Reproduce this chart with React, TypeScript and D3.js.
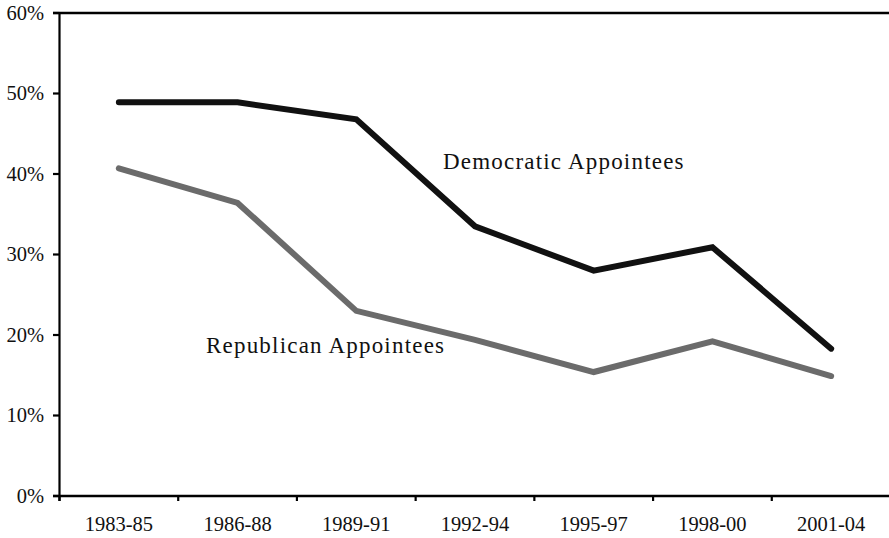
import React from "react";
import * as d3 from "d3";

const categories = ["1983-85", "1986-88", "1989-91", "1992-94", "1995-97", "1998-00", "2001-04"];
const democratic = [48.9, 48.9, 46.8, 33.5, 28.0, 30.9, 18.3];
const republican = [40.7, 36.4, 23.0, 19.4, 15.4, 19.2, 14.9];
const yTicks = [0, 10, 20, 30, 40, 50, 60];

const W = 889;
const H = 538;
const FONT = "Liberation Serif, DejaVu Serif, serif";

export default function App() {
  const left = 59.5;
  const right = 890.5;
  const top = 13;
  const bottom = 496;

  const x = d3.scaleBand<string>().domain(categories).range([left, right]).paddingInner(0).paddingOuter(0);
  const y = d3.scaleLinear().domain([0, 60]).range([bottom, top]);
  const cx = (c: string) => (x(c) as number) + x.bandwidth() / 2;

  const line = d3
    .line<number>()
    .x((_, i) => cx(categories[i]))
    .y((d) => y(d));

  const boundaries = categories.map((c) => x(c) as number).concat([right]);

  return (
    <svg
      width={W}
      height={H}
      style={{ position: "absolute", left: 0, top: 0, background: "#fff", fontFamily: FONT }}
    >
      <rect x={0} y={0} width={W} height={H} fill="#fff" />
      <line x1={53} x2={W} y1={y(60)} y2={y(60)} stroke="#000" strokeWidth={2.5} />
      <line x1={left} x2={left} y1={top} y2={bottom + 5} stroke="#000" strokeWidth={2.2} />
      {yTicks.map((t) => (
        <g key={t}>
          <line x1={53} x2={left} y1={y(t)} y2={y(t)} stroke="#000" strokeWidth={2.2} />
          <text x={44} y={y(t) + 6.5} textAnchor="end" fontSize={20.5} fill="#111">
            {t}%
          </text>
        </g>
      ))}
      <line x1={53} x2={W} y1={bottom} y2={bottom} stroke="#000" strokeWidth={2.5} />
      {boundaries.map((b, i) => (
        <line key={i} x1={b} x2={b} y1={bottom} y2={bottom + 5} stroke="#000" strokeWidth={2.2} />
      ))}
      {categories.map((c) => (
        <text key={c} x={cx(c)} y={531} textAnchor="middle" fontSize={20.5} fill="#111">
          {c}
        </text>
      ))}
      <path
        d={line(republican) || ""}
        fill="none"
        stroke="#6b6b6b"
        strokeWidth={6}
        strokeLinecap="round"
        strokeLinejoin="miter"
      />
      <path
        d={line(democratic) || ""}
        fill="none"
        stroke="#111111"
        strokeWidth={6}
        strokeLinecap="round"
        strokeLinejoin="miter"
      />
      <text x={443} y={169} fontSize={23} letterSpacing={1.2} fill="#111">
        Democratic Appointees
      </text>
      <text x={206} y={353} fontSize={23} letterSpacing={1.2} fill="#111">
        Republican Appointees
      </text>
    </svg>
  );
}
